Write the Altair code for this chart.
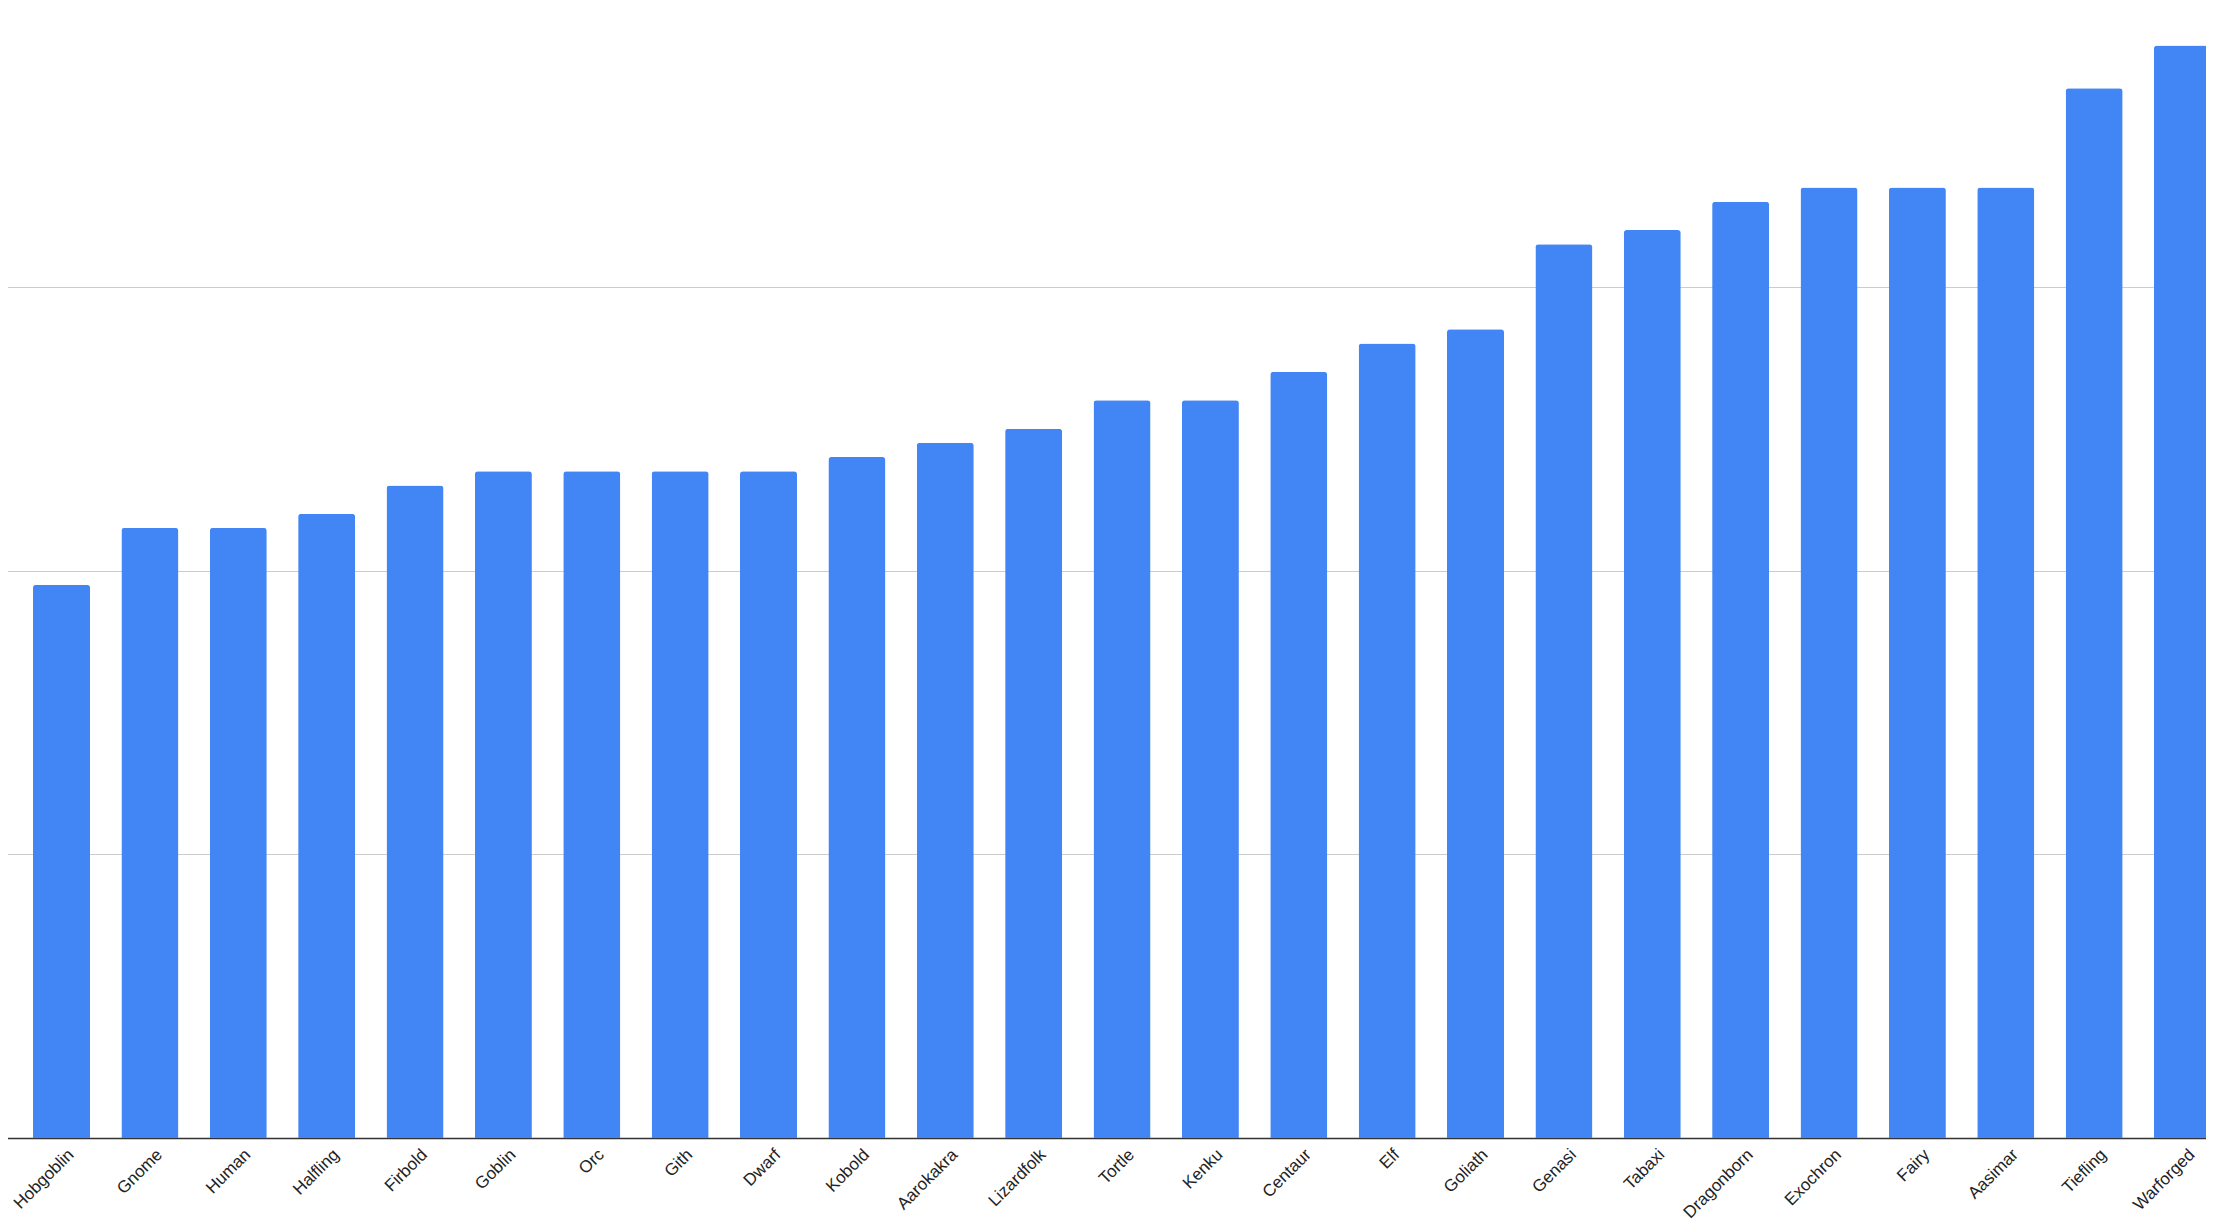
import altair as alt
import pandas as pd

races = ["Hobgoblin", "Gnome", "Human", "Halfling", "Firbold", "Goblin", "Orc", "Gith",
         "Dwarf", "Kobold", "Aarokakra", "Lizardfolk", "Tortle", "Kenku", "Centaur", "Elf",
         "Goliath", "Genasi", "Tabaxi", "Dragonborn", "Exochron", "Fairy", "Aasimar",
         "Tiefling", "Warforged"]
counts = [39, 43, 43, 44, 46, 47, 47, 47, 47, 48, 49, 50, 52, 52, 54, 56, 57, 63, 64, 66,
          67, 67, 67, 74, 77]
y_ticks = [0, 20, 40, 60, 80]

df = pd.DataFrame({"race": races, "count": counts})

chart = alt.Chart(df).mark_bar(
    color="#4285F4", cornerRadiusTopLeft=3, cornerRadiusTopRight=3
).encode(
    x=alt.X("race:N", sort=races, title=None,
            scale=alt.Scale(paddingInner=0.355, paddingOuter=0.1755, align=0.903),
            axis=alt.Axis(labelAngle=-45, labelFont="Liberation Sans", labelFontSize=17,
                          labelColor="#222222", ticks=False, tickSize=0, labelPadding=8,
                          labelOffset=4,
                          domainColor="#333333", domainWidth=1.5, grid=False)),
    y=alt.Y("count:Q", title=None,
            scale=alt.Scale(domain=[0, 80], nice=False),
            axis=alt.Axis(values=y_ticks, labels=False, ticks=False, domain=False,
                          grid=True, gridColor="#cccccc", gridWidth=1, title=None)),
).properties(
    width=2209, height=1135,
    padding={"left": -3, "top": -5, "right": -8, "bottom": 0},
).configure_view(stroke=None).configure(background="white")

chart.save("out.html", embed_options={"renderer": "svg", "actions": False})
